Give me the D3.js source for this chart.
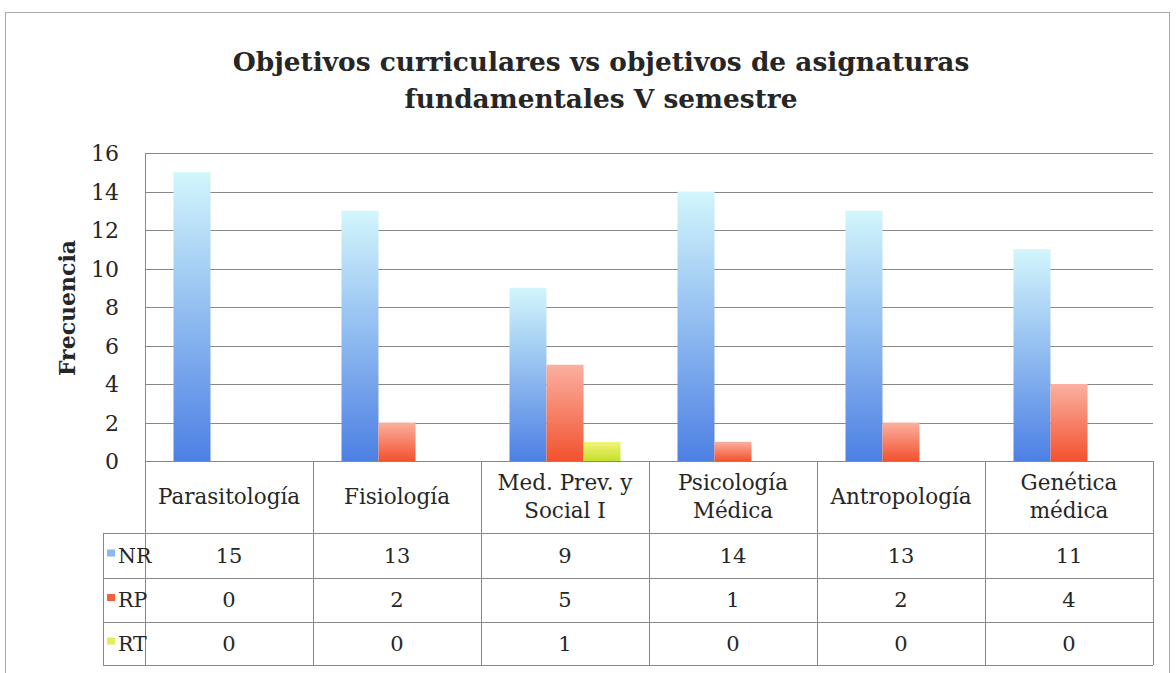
<meta charset="utf-8">
<script src="https://d3js.org/d3.v7.min.js"></script>
<style>
  body { margin: 0; background: #fff; }
  text { font-family: "DejaVu Serif", serif; fill: #262626; }
</style>
<body>
<div id="vis"></div>
<script>
  // Data
  const categories = [['Parasitología'], ['Fisiología'], ['Med. Prev. y', 'Social I'], ['Psicología', 'Médica'], ['Antropología'], ['Genética', 'médica']]
  const seriesNames = ['NR', 'RP', 'RT']
  const nr = [15, 13, 9, 14, 13, 11]
  const rp = [0, 2, 5, 1, 2, 4]
  const rt = [0, 0, 1, 0, 0, 0]
  const yTicks = [0, 2, 4, 6, 8, 10, 12, 14, 16]

  const series = [nr, rp, rt]
  const colors = [
    {top: '#d2f6fc', bottom: '#4d80e4', key: '#8ab8f0'},
    {top: '#fbb0a0', bottom: '#f2522e', key: '#f2603e'},
    {top: '#f2f47a', bottom: '#c4e02c', key: '#e4ee50'}
  ]

  const W = 1176, H = 673
  const plot = {left: 145, right: 1153, top: 153, bottom: 461}

  let svg = d3.select('#vis').append('svg')
    .attr('width', W).attr('height', H)

  // outer frame
  svg.append('rect')
    .attr('x', 5.5).attr('y', 12.5).attr('width', 1164).attr('height', 680)
    .attr('fill', 'none').attr('stroke', '#aaa')

  // gradients
  const defs = svg.append('defs')
  colors.forEach(function (c, i) {
    let g = defs.append('linearGradient').attr('id', 'g' + i)
      .attr('x1', 0).attr('y1', 0).attr('x2', 0).attr('y2', 1)
    g.append('stop').attr('offset', '0%').attr('stop-color', c.top)
    g.append('stop').attr('offset', '100%').attr('stop-color', c.bottom)
  })

  const x = d3.scaleBand()
    .domain(d3.range(categories.length))
    .range([plot.left, plot.right])

  const xInner = d3.scaleBand()
    .domain(d3.range(series.length))
    .range([0, x.bandwidth()])
    .paddingOuter(0.77)
    .paddingInner(0)

  const y = d3.scaleLinear().domain([0, 16]).range([plot.bottom, plot.top])

  // title
  svg.append('text')
    .attr('x', 601).attr('y', 71)
    .attr('text-anchor', 'middle')
    .style('font-size', '26.4px').style('font-weight', 'bold')
    .text('Objetivos curriculares vs objetivos de asignaturas')
  svg.append('text')
    .attr('x', 601).attr('y', 108)
    .attr('text-anchor', 'middle')
    .style('font-size', '26.4px').style('font-weight', 'bold')
    .text('fundamentales V semestre')

  // gridlines
  svg.append('g')
    .selectAll('line')
    .data(yTicks)
    .enter()
    .append('line')
      .attr('x1', plot.left).attr('x2', plot.right)
      .attr('y1', function (d) { return Math.round(y(d)) + 0.5 })
      .attr('y2', function (d) { return Math.round(y(d)) + 0.5 })
      .attr('stroke', '#888').attr('stroke-width', 1)

  // left axis line
  svg.append('line')
    .attr('x1', plot.left + 0.5).attr('x2', plot.left + 0.5)
    .attr('y1', plot.top).attr('y2', plot.bottom)
    .attr('stroke', '#888')

  // y tick labels
  svg.append('g')
    .selectAll('text')
    .data(yTicks)
    .enter()
    .append('text')
      .attr('x', 119)
      .attr('y', function (d) { return y(d) + 8 })
      .attr('text-anchor', 'end')
      .style('font-size', '22px')
      .text(function (d) { return d })

  // y label
  svg.append('text')
    .attr('transform', 'translate(75,' + 308 + ') rotate(-90)')
    .attr('text-anchor', 'middle')
    .style('font-size', '22px').style('font-weight', 'bold')
    .text('Frecuencia')

  // bars
  series.forEach(function (vals, s) {
    svg.append('g')
      .selectAll('rect')
      .data(vals)
      .enter()
      .append('rect')
        .attr('x', function (d, i) { return x(i) + xInner(s) })
        .attr('y', function (d) { return y(d) })
        .attr('width', xInner.bandwidth())
        .attr('height', function (d) { return plot.bottom - y(d) })
        .attr('fill', 'url(#g' + s + ')')
  })

  // data table
  const rowLines = [461, 533, 578, 622, 665]
  const tableLeft = 103
  let table = svg.append('g')

  table.selectAll('line.h')
    .data(rowLines.slice(1))
    .enter()
    .append('line')
      .attr('x1', tableLeft).attr('x2', plot.right)
      .attr('y1', function (d) { return d + 0.5 })
      .attr('y2', function (d) { return d + 0.5 })
      .attr('stroke', '#888')
  table.append('line')
    .attr('x1', plot.left).attr('x2', plot.right)
    .attr('y1', 461.5).attr('y2', 461.5).attr('stroke', '#888')

  // vertical lines
  table.selectAll('line.v')
    .data(d3.range(categories.length + 1))
    .enter()
    .append('line')
      .attr('x1', function (i) { return Math.round(i < categories.length ? x(i) : plot.right) + 0.5 })
      .attr('x2', function (i) { return Math.round(i < categories.length ? x(i) : plot.right) + 0.5 })
      .attr('y1', 461).attr('y2', 665)
      .attr('stroke', '#888')
  table.append('line')
    .attr('x1', tableLeft + 0.5).attr('x2', tableLeft + 0.5)
    .attr('y1', 533).attr('y2', 665).attr('stroke', '#888')

  // category labels
  categories.forEach(function (lines, i) {
    let t = table.append('text')
      .attr('text-anchor', 'middle')
      .style('font-size', '21.5px')
    let cy = (461 + 533) / 2
    lines.forEach(function (ln, k) {
      t.append('tspan')
        .attr('x', x(i) + x.bandwidth() / 2)
        .attr('y', cy + 7 + (k - (lines.length - 1) / 2) * 28)
        .text(ln)
    })
  })

  // series rows
  series.forEach(function (vals, s) {
    let cy = (rowLines[s + 1] + rowLines[s + 2]) / 2
    table.append('rect')
      .attr('x', 107).attr('y', cy - 6)
      .attr('width', 8).attr('height', 7)
      .attr('fill', colors[s].key)
    table.append('text')
      .attr('x', 118).attr('y', cy + 7)
      .style('font-size', '20.5px')
      .text(seriesNames[s])
    table.selectAll('text.v' + s)
      .data(vals)
      .enter()
      .append('text')
        .attr('x', function (d, i) { return x(i) + x.bandwidth() / 2 })
        .attr('y', cy + 7)
        .attr('text-anchor', 'middle')
        .style('font-size', '21px')
        .text(function (d) { return d })
  })
</script>
</body>
